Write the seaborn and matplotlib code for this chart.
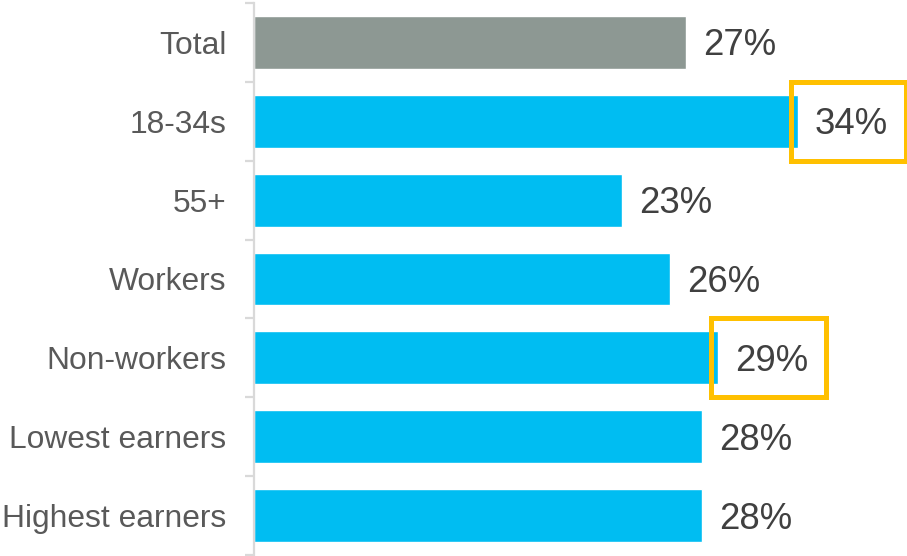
import matplotlib
matplotlib.use("Agg")
import matplotlib.pyplot as plt
from matplotlib.patches import Rectangle
import seaborn as sns
import pandas as pd

categories = ["Total", "18-34s", "55+", "Workers", "Non-workers", "Lowest earners", "Highest earners"]
values = [27, 34, 23, 26, 29, 28, 28]
groups = ["total", "sub", "sub", "sub", "sub", "sub", "sub"]
highlighted = ["18-34s", "Non-workers"]

sns.set_style("white")
plt.rcParams["font.family"] = ["Liberation Sans", "DejaVu Sans"]

df = pd.DataFrame({"category": categories, "value": values, "group": groups})
palette = {"total": "#8D9893", "sub": "#00BDF2"}

fig = plt.figure(figsize=(9.07, 5.56), dpi=100)
ax = fig.add_axes([254 / 907, 1 - 555 / 556, 653 / 907, 552 / 556])

sns.barplot(data=df, x="value", y="category", hue="group", palette=palette,
            order=categories, orient="h", width=0.67, dodge=False, legend=False,
            saturation=1, ax=ax)

ax.set_xlim(0, 40.8)
ax.set_ylim(len(categories) - 0.5, -0.5)
ax.set_xlabel("")
ax.set_ylabel("")
ax.set_xticks([])

for s in ["top", "right", "bottom"]:
    ax.spines[s].set_visible(False)
ax.spines["left"].set_color("#D9D9D9")
ax.spines["left"].set_linewidth(1.6)

ax.set_yticks([i - 0.5 for i in range(len(categories) + 1)], minor=True)
ax.tick_params(axis="y", which="minor", length=6.5, width=1.6, color="#D9D9D9", left=True)
ax.tick_params(axis="y", which="major", length=0, pad=20, labelsize=22.9, labelcolor="#595959")

for i, (c, v) in enumerate(zip(categories, values)):
    ax.text(v + 1.05, i + 0.165, f"{v}%", va="baseline", ha="left", fontsize=26.3, color="#404040")
    if c in highlighted:
        r = Rectangle((v - 0.45, i - 0.5), 7.2, 1.0, fill=False, edgecolor="#FFC000",
                      linewidth=3.6, clip_on=False, zorder=5)
        ax.add_patch(r)

fig.savefig("out.png", dpi=100)
